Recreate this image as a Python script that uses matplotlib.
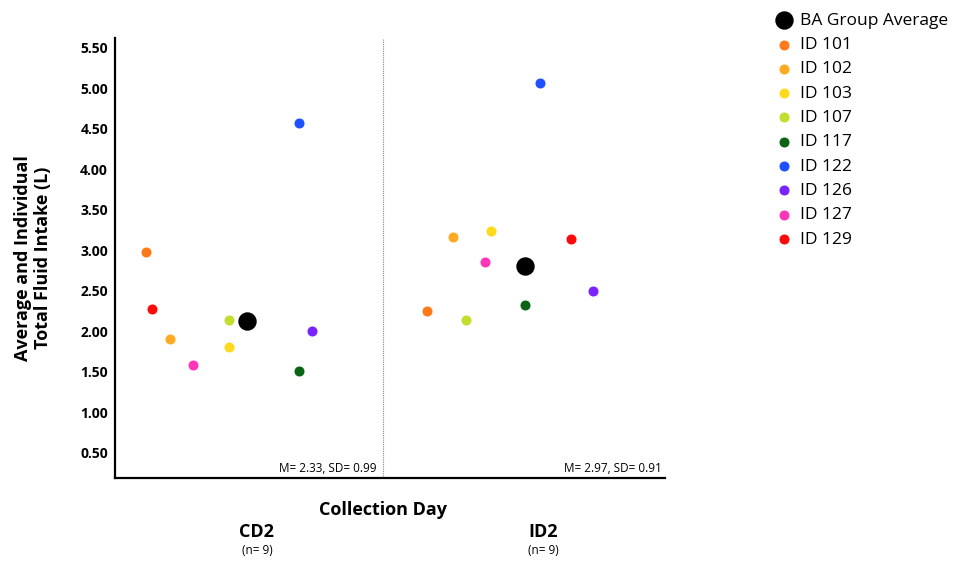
import matplotlib
matplotlib.use("Agg")
import matplotlib.pyplot as plt

plt.rcParams['font.family'] = ['Open Sans', 'DejaVu Sans']

groups = ["CD2", "ID2"]
group_n = [9, 9]
group_stats = ["M= 2.33, SD= 0.99", "M= 2.97, SD= 0.91"]

ids = ["ID 101", "ID 102", "ID 103", "ID 107", "ID 117", "ID 122", "ID 126", "ID 127", "ID 129"]
id_colors = ["#ff7a1a", "#ffab22", "#ffd91c", "#c4dc2e", "#0b6415", "#1f50ff", "#7a22ff", "#ff36b8", "#ff0a0a"]

# individual values (L) per collection day, same order as ids
cd2_values = [2.98, 1.90, 1.81, 2.14, 1.51, 4.57, 2.00, 1.59, 2.27]
id2_values = [2.25, 3.17, 3.24, 2.14, 2.33, 5.06, 2.50, 2.86, 3.14]
# horizontal jitter used in the original plot
cd2_jitter = [-0.384, -0.295, -0.075, -0.075, 0.187, 0.187, 0.235, -0.209, -0.362]
id2_jitter = [-0.336, -0.239, -0.097, -0.190, 0.030, 0.086, 0.284, -0.119, 0.201]

avg_values = [2.13, 2.81]
avg_jitter = [-0.007, 0.030]

yticks = [0.5, 1.0, 1.5, 2.0, 2.5, 3.0, 3.5, 4.0, 4.5, 5.0, 5.5]

fig = plt.figure(figsize=(9.55, 5.65), dpi=100)
ax = fig.add_axes([0.1204, 0.154, 0.5759, 0.7788])

ax.scatter([g + j for g, j in zip(range(2), avg_jitter)], avg_values, s=150,
           color="black", zorder=4, label="BA Group Average")

for i, name in enumerate(ids):
    xs = [0 + cd2_jitter[i], 1 + id2_jitter[i]]
    ys = [cd2_values[i], id2_values[i]]
    ax.scatter(xs, ys, s=62, color=id_colors[i], edgecolor="white",
               linewidth=0.6, zorder=3, label=name)

xmax = 1.552
ax.set_xlim(-0.5, xmax)
ax.set_ylim(0.19, 5.62)
ax.axvline(0.5, color="#888888", linestyle=(0, (1, 1)), linewidth=0.8)

ax.set_yticks(yticks)
ax.set_yticklabels([f"{v:.2f}" for v in yticks], fontsize=10, fontweight="bold")
ax.tick_params(axis="y", length=0, pad=5)
ax.set_xticks([])

for side in ["top", "right"]:
    ax.spines[side].set_visible(False)
ax.spines["left"].set_linewidth(1.6)
ax.spines["bottom"].set_linewidth(1.6)

ax.set_ylabel("Average and Individual\nTotal Fluid Intake (L)", fontsize=13,
              fontweight="bold", labelpad=20, linespacing=1.2)

# stats in the lower right corner of each panel
for right, txt in zip([0.475, xmax - 0.01], group_stats):
    ax.text(right, 0.23, txt, fontsize=8.5, ha="right", va="bottom")

# x axis category labels
fig.text(383 / 955, 1 - 510 / 565, "Collection Day", fontsize=13, fontweight="bold",
         ha="center", va="center")
for g, (name, n) in enumerate(zip(groups, group_n)):
    xpos = [257, 543][g] / 955
    fig.text(xpos, 1 - 532 / 565, name, fontsize=13, fontweight="bold", ha="center", va="center")
    fig.text(xpos, 1 - 550 / 565, f"(n= {n})", fontsize=8.5, ha="center", va="center")

leg = ax.legend(loc="upper left", bbox_to_anchor=(0.803, 0.99), bbox_transform=fig.transFigure,
                frameon=False, fontsize=12.5, handletextpad=0.3, labelspacing=0.47,
                borderaxespad=0, handlelength=1.2)

fig.savefig("out.png", dpi=100)
